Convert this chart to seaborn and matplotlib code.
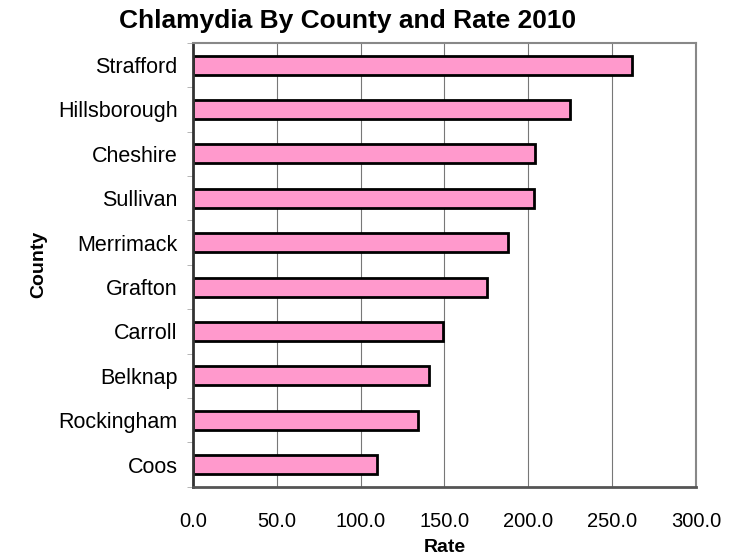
import pandas as pd
import matplotlib.pyplot as plt
import seaborn as sns
from matplotlib.ticker import FixedLocator

counties = ["Strafford", "Hillsborough", "Cheshire", "Sullivan", "Merrimack",
            "Grafton", "Carroll", "Belknap", "Rockingham", "Coos"]
rates = [262.0, 225.0, 204.0, 203.5, 188.0, 175.5, 149.0, 140.5, 134.0, 109.5]
xticks = [0, 50, 100, 150, 200, 250, 300]

df = pd.DataFrame({"County": counties, "Rate": rates})

sns.set_style("white")
plt.rcParams['font.family'] = ['Liberation Sans', 'DejaVu Sans']
plt.rcParams['text.color'] = 'black'
plt.rcParams['axes.labelcolor'] = 'black'
plt.rcParams['xtick.color'] = 'black'
plt.rcParams['ytick.color'] = 'black'

fig = plt.figure(figsize=(7.31, 5.57), dpi=100)
ax = fig.add_axes([0.264, 0.126, 0.688, 0.797])

sns.barplot(data=df, x="Rate", y="County", orient="h", color="#FF99CC",
            edgecolor="black", linewidth=2, width=0.43, saturation=1, ax=ax)

ax.set_xlim(0, 300)
ax.set_ylim(9.5, -0.5)
ax.set_xticks(xticks)
ax.set_xticklabels([f"{v:.1f}" for v in xticks], fontsize=14.5)
ax.tick_params(axis="x", length=4, color="#888888", pad=14)
ax.tick_params(axis="y", which="major", length=0, pad=11, labelsize=15.5)
ax.yaxis.set_minor_locator(FixedLocator([i - 0.5 for i in range(11)]))
ax.tick_params(axis="y", which="minor", length=4, color="#aaaaaa", left=True)
ax.grid(axis="x", color="#777777", linewidth=0.8)
ax.set_axisbelow(True)

for side in ["top", "right"]:
    ax.spines[side].set_color("#888888")
    ax.spines[side].set_linewidth(1.5)
ax.spines["left"].set_color("#333333")
ax.spines["left"].set_linewidth(2)
ax.spines["bottom"].set_color("#555555")
ax.spines["bottom"].set_linewidth(2)

ax.set_xlabel("Rate", fontsize=14, fontweight="bold", labelpad=6)
ax.set_ylabel("County", fontsize=14, fontweight="bold", labelpad=8)
fig.text(0.476, 0.962, "Chlamydia By County and Rate 2010", fontsize=19,
         fontweight="bold", ha="center", va="center")

plt.savefig("out.png", dpi=100)
plt.close()
